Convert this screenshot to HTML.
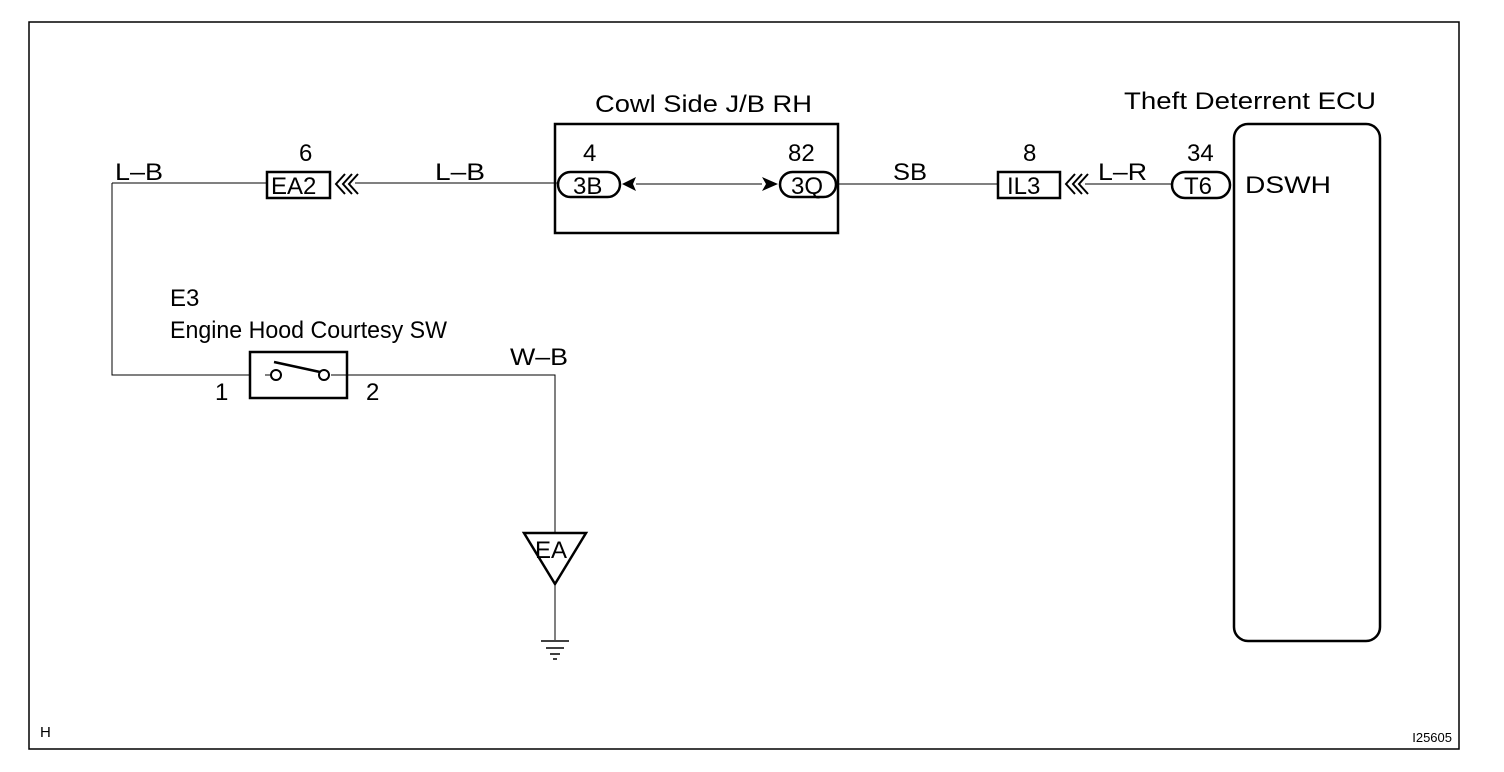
<!DOCTYPE html>
<html><head><style>body{margin:0;background:#fff}svg{display:block}</style></head><body>
<svg width="1504" height="772" xmlns="http://www.w3.org/2000/svg" font-family="Liberation Sans, sans-serif" font-size="24" fill="#000">
<rect x="0" y="0" width="1504" height="772" fill="#fff"/>
<path d="M29 22 V749 H1459 V22 Z" fill="none" stroke="#000" stroke-width="1.5"/>
<g stroke="#000" fill="none">
<path d="M112 183 H267 M355 183 H558 M636 184 H762 M836 184 H998 M1085 184 H1172" stroke-width="1"/>
<path d="M112 183 V375 H250 M347 375 H555 V533 M555 583 V640" stroke-width="1"/>
<rect x="267" y="172" width="63" height="26" stroke-width="2.5"/>
<rect x="998" y="172" width="62" height="26" stroke-width="2.5"/>
<path d="M345 174 L336 184 L345 194 M352 174 L343 184 L352 194 M358 174 L349 184 L358 194" stroke-width="2"/>
<path d="M1075 174 L1066 184 L1075 194 M1082 174 L1073 184 L1082 194 M1088 174 L1079 184 L1088 194" stroke-width="2"/>
<rect x="555" y="124" width="283" height="109" stroke-width="2.5"/>
<rect x="558" y="172" width="62" height="25" rx="12.5" stroke-width="2.5"/>
<rect x="780" y="172" width="56" height="25" rx="12.5" stroke-width="2.5"/>
<rect x="1172" y="172" width="58" height="26" rx="13" stroke-width="2.5"/>
<rect x="1234" y="124" width="146" height="517" rx="14" stroke-width="2.5"/>
<rect x="250" y="352" width="97" height="46" stroke-width="2.5"/>
<path d="M265 375 H270 M331 375 H347" stroke-width="1"/>
<circle cx="276" cy="375" r="5" fill="#fff" stroke-width="2"/>
<circle cx="324" cy="375" r="5" fill="#fff" stroke-width="2"/>
<path d="M274 362 L320 372" stroke-width="2.5"/>
<path d="M524 533 H586 L555 584 Z" stroke-width="2.5"/>
<path d="M541 641 H569 M546 648 H564 M550 654 H560 M553 659 H557" stroke-width="1.5"/>
</g>
<path d="M622 184 L636 177 L633 184 L636 191 Z"/>
<path d="M778 184 L762 177 L766 184 L762 191 Z"/>
<g lengthAdjust="spacingAndGlyphs">
<text x="115" y="180" textLength="48" lengthAdjust="spacingAndGlyphs">L–B</text>
<text x="435" y="180" textLength="50" lengthAdjust="spacingAndGlyphs">L–B</text>
<text x="595" y="112" textLength="217" lengthAdjust="spacingAndGlyphs">Cowl Side J/B RH</text>
<text x="893" y="180" textLength="34" lengthAdjust="spacingAndGlyphs">SB</text>
<text x="1098" y="180" textLength="49" lengthAdjust="spacingAndGlyphs">L–R</text>
<text x="1124" y="109" textLength="252" lengthAdjust="spacingAndGlyphs">Theft Deterrent ECU</text>
<text x="1245" y="193" textLength="86" lengthAdjust="spacingAndGlyphs">DSWH</text>
<text x="170" y="338" textLength="277" lengthAdjust="spacingAndGlyphs">Engine Hood Courtesy SW</text>
<text x="510" y="365" textLength="58" lengthAdjust="spacingAndGlyphs">W–B</text>
</g>
<text x="299" y="161">6</text>
<text x="583" y="161">4</text>
<text x="788" y="161">82</text>
<text x="1023" y="161">8</text>
<text x="1187" y="161">34</text>
<text x="271" y="194">EA2</text>
<text x="1007" y="194">IL3</text>
<text x="573" y="194">3B</text>
<text x="791" y="194">3Q</text>
<text x="1184" y="194">T6</text>
<text x="170" y="306">E3</text>
<text x="215" y="400">1</text>
<text x="366" y="400">2</text>
<text x="535" y="558">EA</text>
<text x="40" y="737" font-size="15">H</text>
<text x="1452" y="742" font-size="13" text-anchor="end">I25605</text>
</svg>
</body></html>
